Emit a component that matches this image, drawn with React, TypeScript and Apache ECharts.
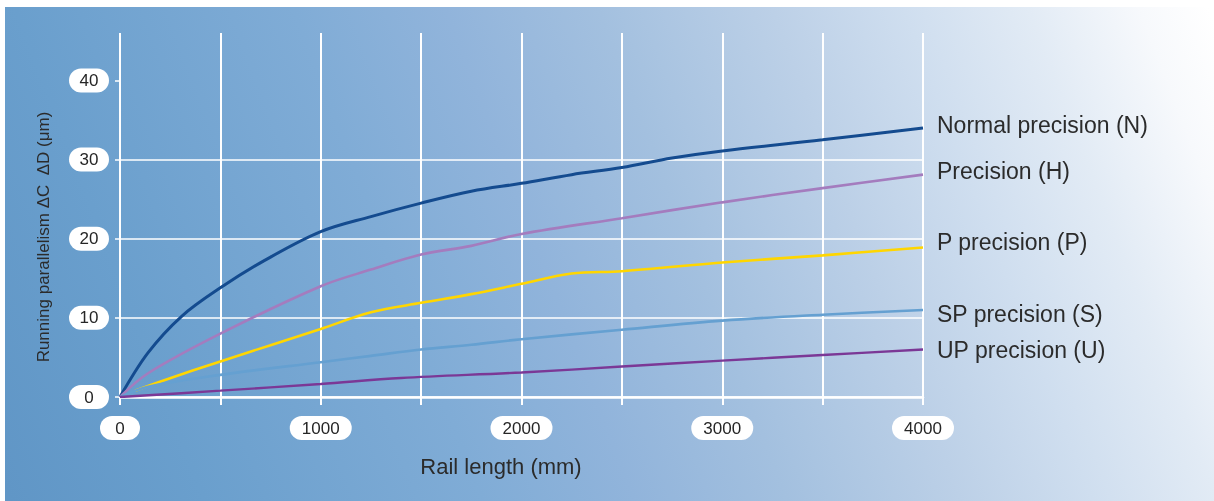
import React, { useEffect, useRef } from "react";
import * as echarts from "echarts";

const xLabelValues = [0, 1000, 2000, 3000, 4000];
const yLabelValues = [0, 10, 20, 30, 40];

const seriesNames = [
  "Normal precision (N)",
  "Precision (H)",
  "P precision (P)",
  "SP precision (S)",
  "UP precision (U)",
];

const normalN = [
  [0, 0], [140, 5.6], [307, 10.2], [500, 13.8], [723, 17.3], [1000, 20.9],
  [1250, 22.8], [1500, 24.5], [1750, 26.0], [2000, 27.0], [2250, 28.1],
  [2500, 29.0], [2750, 30.2], [3000, 31.1], [3500, 32.5], [4000, 34.0],
];
const precisionH = [
  [0, 0], [140, 3.0], [500, 8.0], [1000, 14.0], [1250, 16.1], [1500, 18.0],
  [1750, 19.1], [2000, 20.6], [2500, 22.6], [3000, 24.6], [3500, 26.4], [4000, 28.1],
];
const precisionP = [
  [75, 0.8], [224, 2.15], [500, 4.5], [1000, 8.6], [1250, 10.7], [1500, 11.9],
  [1750, 13.0], [2000, 14.3], [2250, 15.6], [2500, 15.9], [3000, 17.0],
  [3500, 17.9], [4000, 18.9],
];
const precisionS = [
  [0, 0], [140, 1.3], [500, 2.8], [1000, 4.4], [1250, 5.2], [1500, 6.0],
  [1750, 6.6], [2000, 7.3], [2500, 8.5], [3000, 9.65], [3500, 10.4], [4000, 11.0],
];
const precisionU = [
  [0, 0], [500, 0.8], [1000, 1.65], [1400, 2.4], [2000, 3.1], [2500, 3.85],
  [3000, 4.6], [3500, 5.3], [4000, 6.0],
];

const seriesData = [normalN, precisionH, precisionP, precisionS, precisionU];
const seriesColors = ["#144b8f", "#a47cbe", "#ffd600", "#65a0d1", "#7b3896"];
const seriesWidths = [3, 2.6, 2.6, 2.6, 2.4];
const labelOffsets = [-3, -4, -5, 4, 0];

const FONT = "'Liberation Sans', Arial, Helvetica, sans-serif";

export default function App() {
  const ref = useRef<HTMLDivElement>(null);

  useEffect(() => {
    if (!ref.current) return;
    const chart = echarts.init(ref.current, null, { renderer: "svg" });

    const pill = (w: number) => ({
      backgroundColor: "#ffffff",
      borderRadius: 12,
      width: w,
      height: 24,
      lineHeight: 24,
      align: "center",
      fontSize: 17,
      color: "#262626",
      fontFamily: FONT,
    });

    chart.setOption({
      animation: false,
      textStyle: { fontFamily: FONT },
      graphic: [
        {
          type: "rect",
          z: -100,
          silent: true,
          shape: { x: 5, y: 7, width: 1209, height: 494 },
          style: {
            fill: new echarts.graphic.LinearGradient(
              5, 486, 1214, 22,
              [
                { offset: 0, color: "#6096c6" },
                { offset: 0.14, color: "#6a9fcd" },
                { offset: 0.34, color: "#80acd6" },
                { offset: 0.45, color: "#91b4db" },
                { offset: 0.56, color: "#a3c0df" },
                { offset: 0.685, color: "#bcd0e7" },
                { offset: 0.78, color: "#cfdeef" },
                { offset: 0.87, color: "#e2ebf5" },
                { offset: 0.95, color: "#f7f9fc" },
                { offset: 1, color: "#ffffff" },
              ],
              true
            ),
          },
        },
      ],
      grid: {
        left: 120,
        right: 291,
        top: 33,
        bottom: 104,
        containLabel: false,
        outerBoundsMode: "none",
      },
      xAxis: {
        type: "value",
        min: 0,
        max: 4000,
        interval: 500,
        name: "Rail length (mm)",
        nameLocation: "middle",
        nameGap: 58,
        nameTextStyle: {
          fontSize: 22,
          color: "#2b2b2b",
          fontFamily: FONT,
          padding: [0, 41, 0, 0],
        },
        axisLine: { show: true, lineStyle: { color: "#ffffff", width: 2.5 } },
        axisTick: { show: true, length: 8, lineStyle: { color: "#ffffff", width: 2 } },
        splitLine: { show: true, lineStyle: { color: "#ffffff", width: 2 } },
        axisLabel: {
          customValues: xLabelValues,
          margin: 19,
          formatter: (v: number) => (v === 0 ? `{s|${v}}` : `{l|${v}}`),
          rich: { s: pill(40), l: pill(62) },
        },
      },
      yAxis: {
        type: "value",
        min: 0,
        max: 46,
        interval: 10,
        name: "Running parallelism ΔC  ΔD (μm)",
        nameLocation: "middle",
        nameRotate: 90,
        nameGap: 68,
        nameTextStyle: {
          fontSize: 17,
          color: "#2b2b2b",
          fontFamily: FONT,
          padding: [0, 44, 0, 0],
        },
        axisLine: { show: false },
        axisTick: {
          show: true,
          length: 5,
          customValues: yLabelValues,
          lineStyle: { color: "#ffffff", width: 1.5 },
        },
        splitLine: {
          show: true,
          showMaxLine: false,
          lineStyle: { color: "#ffffff", width: 1.5 },
        },
        axisLabel: {
          customValues: yLabelValues,
          margin: 11,
          formatter: (v: number) => `{s|${v}}`,
          rich: { s: pill(40) },
        },
      },
      series: seriesNames.map((name, i) => ({
        name,
        type: "line",
        data: seriesData[i],
        smooth: 0.35,
        showSymbol: false,
        symbol: "none",
        lineStyle: { color: seriesColors[i], width: seriesWidths[i] },
        itemStyle: { color: seriesColors[i] },
        emphasis: { disabled: true },
        endLabel: {
          show: true,
          formatter: "{a}",
          distance: 14,
          offset: [0, labelOffsets[i]],
          fontSize: 23,
          color: "#2b2b2b",
          fontFamily: FONT,
        },
      })),
    });

    return () => chart.dispose();
  }, []);

  return (
    <div
      ref={ref}
      style={{ position: "fixed", left: 0, top: 0, width: 1214, height: 501 }}
    />
  );
}
